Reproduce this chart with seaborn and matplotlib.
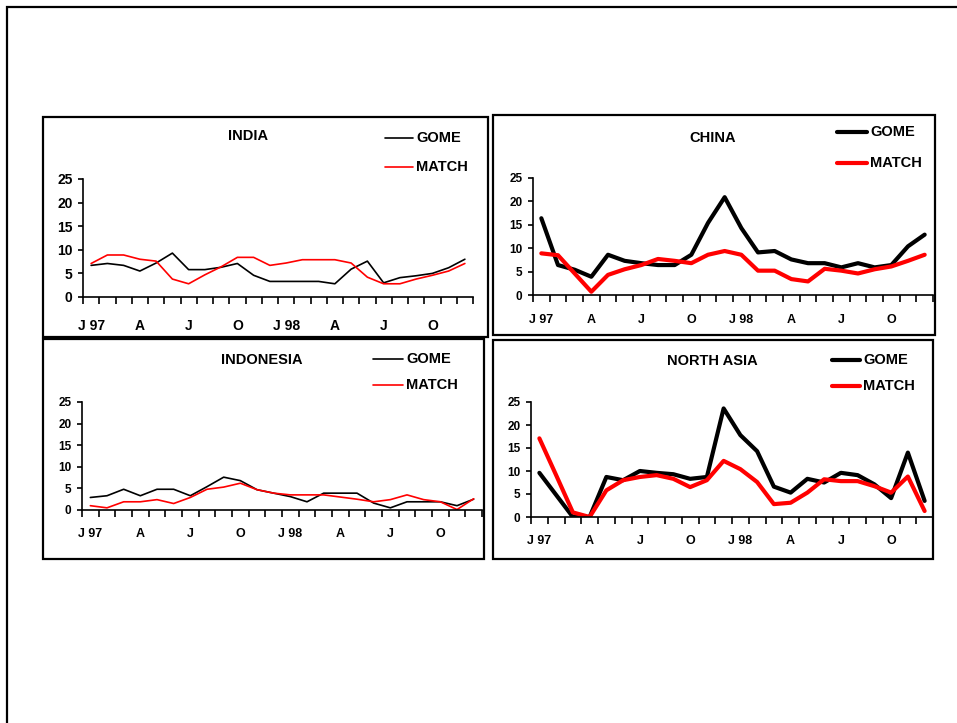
import matplotlib
matplotlib.use("Agg")
import matplotlib.pyplot as plt
from matplotlib.patches import Rectangle
import seaborn as sns
import pandas as pd

# Monthly series, Jan 1997 - Dec 1998
months = list(range(24))
tick_labels = ["J 97", "A", "J", "O", "J 98", "A", "J", "O"]
tick_pos = [0, 3, 6, 9, 12, 15, 18, 21]

india_gome = [6.7, 7.1, 6.7, 5.5, 7.2, 9.3, 5.8, 5.8, 6.3, 7.1, 4.6, 3.3,
              3.3, 3.3, 3.3, 2.8, 5.9, 7.6, 3.0, 4.1, 4.5, 5.0, 6.2, 8.0]
india_match = [7.1, 8.9, 8.9, 8.0, 7.6, 3.8, 2.8, 4.7, 6.4, 8.4, 8.4, 6.7,
               7.2, 7.9, 7.9, 7.9, 7.2, 4.2, 2.8, 2.8, 3.8, 4.6, 5.5, 7.1]

china_gome = [16.4, 6.4, 5.4, 3.9, 8.6, 7.3, 6.8, 6.4, 6.4, 8.6, 15.4, 20.9,
              14.3, 9.1, 9.4, 7.6, 6.8, 6.8, 5.9, 6.8, 5.9, 6.4, 10.4, 12.9]
china_match = [8.9, 8.5, 4.6, 0.7, 4.3, 5.5, 6.4, 7.7, 7.3, 6.8, 8.6, 9.4,
               8.6, 5.2, 5.2, 3.4, 2.9, 5.6, 5.2, 4.6, 5.5, 6.1, 7.3, 8.6]

indonesia_gome = [2.9, 3.3, 4.8, 3.3, 4.8, 4.8, 3.3, 5.4, 7.6, 6.8, 4.7, 3.9,
                  3.1, 1.9, 3.9, 3.9, 3.9, 1.6, 0.5, 1.9, 1.9, 1.9, 1.0, 2.5]
indonesia_match = [1.0, 0.5, 1.9, 1.9, 2.4, 1.5, 2.9, 4.8, 5.3, 6.2, 4.7, 3.9,
                   3.5, 3.5, 3.5, 3.0, 2.5, 1.9, 2.4, 3.5, 2.4, 1.9, 0.1, 2.6]

nasia_gome = [9.6, 4.8, 0.0, 0.0, 8.7, 8.0, 10.0, 9.6, 9.3, 8.3, 8.7, 23.6,
              17.8, 14.3, 6.6, 5.3, 8.3, 7.5, 9.6, 9.1, 7.1, 4.1, 14.0, 3.5]
nasia_match = [17.1, 9.1, 1.0, 0.0, 5.8, 8.0, 8.7, 9.1, 8.3, 6.5, 8.0, 12.2,
               10.4, 7.6, 2.8, 3.1, 5.3, 8.2, 7.8, 7.8, 6.7, 5.3, 8.8, 1.3]

W, H = 957, 723
sns.set_style("white")
plt.rcParams["font.family"] = ["Liberation Sans", "DejaVu Sans"]
plt.rcParams["font.weight"] = "bold"
plt.rcParams["text.color"] = "black"
plt.rcParams["xtick.color"] = "black"
plt.rcParams["ytick.color"] = "black"
plt.rcParams["axes.labelcolor"] = "black"

fig = plt.figure(figsize=(W / 100, H / 100), dpi=100)


def fx(px):
    return px / W


def fy(py):
    return 1 - py / H


def frame(x0, y0, x1, y1, lw=1.6):
    fig.add_artist(Rectangle((fx(x0), fy(y1)), fx(x1 - x0), (y1 - y0) / H,
                             transform=fig.transFigure, fill=False,
                             edgecolor="black", linewidth=lw))


# outer page border
frame(7, 7, W + 20, H + 20, lw=1.6)

panels = [
    dict(title="INDIA", gome=india_gome, match=india_match,
         box=(83, 473, 297, 179), frame=(43, 117, 488, 337),
         tpos=(248, 136), leg=(385, 413, 138, 167), lw=1.2,
         yfs=10, xfs=10, xpad=12),
    dict(title="CHINA", gome=china_gome, match=china_match,
         box=(533, 933, 295, 178), frame=(493, 115, 935, 335),
         tpos=(713, 138), leg=(837, 867, 132, 163), lw=3.0,
         yfs=8.5, xfs=9, xpad=10),
    dict(title="INDONESIA", gome=indonesia_gome, match=indonesia_match,
         box=(82, 482, 510, 402), frame=(43, 339, 484, 559),
         tpos=(262, 360), leg=(373, 403, 359, 385), lw=1.2,
         yfs=8.5, xfs=9, xpad=9),
    dict(title="NORTH ASIA", gome=nasia_gome, match=nasia_match,
         box=(531, 933, 517, 402), frame=(493, 340, 933, 559),
         tpos=(712, 361), leg=(832, 860, 360, 386), lw=3.0,
         yfs=8.5, xfs=9, xpad=9),
]

for p in panels:
    frame(*p["frame"])
    left, right, y0, y25 = p["box"]
    ax = fig.add_axes([fx(left), fy(y0), fx(right - left), (y0 - y25) / H])
    df = pd.DataFrame({
        "month": months * 2,
        "value": p["gome"] + p["match"],
        "series": ["GOME"] * 24 + ["MATCH"] * 24,
    })
    sns.lineplot(data=df, x="month", y="value", hue="series",
                 palette={"GOME": "black", "MATCH": "#ff0000"},
                 linewidth=p["lw"], ax=ax, legend=False)
    ax.set_xlim(-0.5, 23.5)
    ax.set_ylim(0, 25)
    ax.set_xlabel("")
    ax.set_ylabel("")
    ax.set_yticks([0, 5, 10, 15, 20, 25])
    ax.set_xticks([i - 0.5 for i in range(25)])
    ax.set_xticklabels([])
    ax.set_xticks(tick_pos, minor=True)
    ax.set_xticklabels(tick_labels, minor=True, fontsize=p["xfs"],
                       fontweight="bold", color="black")
    ax.tick_params(axis="x", which="major", direction="out", length=5,
                   width=1.2, color="black", bottom=True)
    ax.tick_params(axis="x", which="minor", length=0, pad=p["xpad"] + 4,
                   bottom=True, labelcolor="black")
    ax.tick_params(axis="y", direction="out", length=3.5, width=1.2,
                   color="black", left=True, pad=4, labelsize=p["yfs"],
                   labelcolor="black")
    for lab in ax.get_yticklabels():
        lab.set_fontweight("bold")
    for side in ("top", "right"):
        ax.spines[side].set_visible(False)
    for side in ("left", "bottom"):
        ax.spines[side].set_color("black")
        ax.spines[side].set_linewidth(1.2)
    ax.patch.set_alpha(0)

    # panel title
    fig.text(fx(p["tpos"][0]), fy(p["tpos"][1]), p["title"], ha="center",
             va="center", fontsize=10.5, fontweight="bold", color="black")
    # legend entries
    lx0, lx1, ly_g, ly_m = p["leg"]
    for name, color, ly in (("GOME", "black", ly_g), ("MATCH", "#ff0000", ly_m)):
        fig.add_artist(plt.Line2D([fx(lx0), fx(lx1)], [fy(ly), fy(ly)],
                                  transform=fig.transFigure, color=color,
                                  linewidth=p["lw"]))
        fig.text(fx(lx1 + 3), fy(ly), name, ha="left", va="center",
                 fontsize=10.5, fontweight="bold", color="black")

fig.savefig("out.png", dpi=100, facecolor="white")
